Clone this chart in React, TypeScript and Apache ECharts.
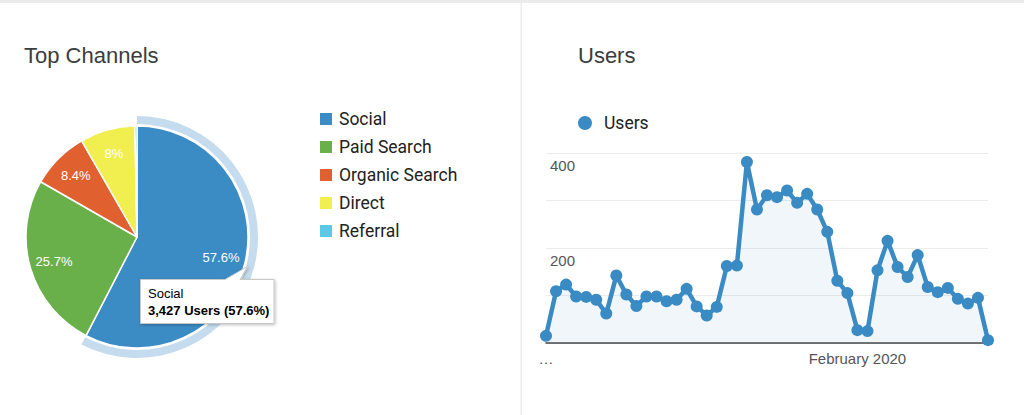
import { useEffect, useRef } from "react";
import * as echarts from "echarts";

const channels = ["Social", "Paid Search", "Organic Search", "Direct", "Referral"];
const channelUsers = [3427, 1529, 500, 476, 18];
const channelColors = ["#3b8bc5", "#6ab04a", "#e0612f", "#f1ee4f", "#5bc8e5"];

const days = [
  "Jan 1", "Jan 2", "Jan 3", "Jan 4", "Jan 5", "Jan 6", "Jan 7", "Jan 8", "Jan 9", "Jan 10",
  "Jan 11", "Jan 12", "Jan 13", "Jan 14", "Jan 15", "Jan 16", "Jan 17", "Jan 18", "Jan 19", "Jan 20",
  "Jan 21", "Jan 22", "Jan 23", "Jan 24", "Jan 25", "Jan 26", "Jan 27", "Jan 28", "Jan 29", "Jan 30",
  "Jan 31", "Feb 1", "Feb 2", "Feb 3", "Feb 4", "Feb 5", "Feb 6", "Feb 7", "Feb 8", "Feb 9",
  "Feb 10", "Feb 11", "Feb 12", "Feb 13", "Feb 14",
];
const dailyUsers = [
  15, 109, 123, 98, 97, 91, 62, 142, 102, 78,
  98, 98, 88, 91, 114, 77, 58, 76, 162, 163,
  381, 281, 311, 307, 321, 295, 314, 281, 234, 131,
  105, 27, 25, 153, 215, 160, 139, 185, 118, 107,
  116, 93, 83, 95, 6,
];
const xTickLabels: Record<string, string> = { "Jan 1": "…", "Feb 1": "February 2020" };
const yTickLabels = [200, 400];

const FONT = "'Liberation Sans', Arial, Helvetica, sans-serif";

export default function App() {
  const chartRef = useRef<HTMLDivElement>(null);

  useEffect(() => {
    if (!chartRef.current) return;
    const chart = echarts.init(chartRef.current, null, { renderer: "svg" });

    const total = channelUsers.reduce((a, b) => a + b, 0);
    const pieData = channels.map((name, i) => ({
      name,
      value: channelUsers[i],
      itemStyle: { color: channelColors[i] },
    }));
    const top = pieData[0];
    const topPct = ((top.value / total) * 100).toFixed(1);

    const center = [137, 237];

    const option: echarts.EChartsOption = {
      animation: false,
      backgroundColor: "#fff",
      textStyle: { fontFamily: FONT },
      title: [
        { text: "Top Channels", left: 19, top: 39, textStyle: { fontSize: 22, fontWeight: "normal", color: "#3c3c3c", fontFamily: FONT } },
        { text: "Users", left: 573, top: 39, textStyle: { fontSize: 22, fontWeight: "normal", color: "#3c3c3c", fontFamily: FONT } },
      ],
      legend: [
        {
          data: channels,
          orient: "vertical",
          left: 313,
          top: 105,
          icon: "rect",
          itemWidth: 14,
          itemHeight: 14,
          itemGap: 10,
          selectedMode: false,
          textStyle: { fontSize: 17.5, color: "#222", fontFamily: "Roboto, " + FONT, padding: [0, 0, 0, 1] },
        },
        {
          data: ["Users"],
          left: 573,
          top: 109,
          icon: "circle",
          itemWidth: 14,
          itemHeight: 14,
          selectedMode: false,
          textStyle: { fontSize: 17.5, color: "#222", fontFamily: "Roboto, " + FONT, padding: [0, 0, 0, 7] },
        },
      ],
      grid: { left: 546, right: 36, top: 153, bottom: 72 },
      xAxis: {
        type: "category",
        data: days,
        boundaryGap: false,
        axisLine: { lineStyle: { color: "#444", width: 1.5 } },
        axisTick: { show: false },
        axisLabel: {
          interval: 0,
          margin: 8,
          fontSize: 15,
          color: "#555",
          formatter: (v: string) => xTickLabels[v] ?? "",
        },
      },
      yAxis: {
        type: "value",
        min: 0,
        max: 400,
        interval: 100,
        axisLine: { show: false },
        axisTick: { show: false },
        splitLine: { lineStyle: { color: "#ececec", width: 1 } },
        axisLabel: {
          inside: true,
          margin: 4,
          verticalAlign: "top",
          padding: [5, 0, 0, 0],
          fontSize: 15,
          color: "#555",
          formatter: (v: number) => (yTickLabels.includes(v) ? String(v) : ""),
        },
      },
      series: [
        {
          name: "Channels",
          type: "pie",
          center,
          radius: [0, 111],
          startAngle: 90,
          silent: true,
          data: pieData,
          label: { show: false },
          labelLine: { show: false },
          itemStyle: { borderColor: "#fff", borderWidth: 1.5 },
        },
        {
          name: "Highlight",
          type: "pie",
          center,
          radius: [113, 121],
          startAngle: 90,
          silent: true,
          data: [
            { name: top.name, value: top.value, itemStyle: { color: "#c5dbee" } },
            { name: "", value: total - top.value, itemStyle: { color: "transparent" } },
          ],
          label: { show: false },
          labelLine: { show: false },
        },
        {
          name: "Percent",
          type: "pie",
          center,
          radius: [56, 111],
          startAngle: 90,
          silent: true,
          percentPrecision: 1,
          minShowLabelAngle: 5,
          data: channels.map((name, i) => ({ name, value: channelUsers[i] })),
          itemStyle: { color: "transparent" },
          label: {
            show: true,
            position: "inside",
            color: "#fff",
            fontSize: 13,
            fontFamily: FONT,
            formatter: (p: any) => `${p.percent}%`,
          },
          labelLine: { show: false },
        },
        {
          name: "Users",
          type: "line",
          data: dailyUsers,
          symbol: "circle",
          symbolSize: 12,
          showAllSymbol: true,
          silent: true,
          itemStyle: { color: "#3a8bc4" },
          lineStyle: { color: "#3a8bc4", width: 4.5 },
          areaStyle: { color: "rgba(58,139,196,0.11)" },
        },
      ],
      graphic: [
        { type: "rect", shape: { x: 0, y: 0, width: 1024, height: 3 }, style: { fill: "#ebebeb" }, silent: true },
        { type: "rect", shape: { x: 520.5, y: 3, width: 1.5, height: 412 }, style: { fill: "#ececec" }, silent: true },
        {
          type: "group",
          silent: true,
          z: 100,
          children: [
            {
              type: "polygon",
              z: 100,
              shape: {
                points: [
                  [140.5, 279.5], [225, 279.5], [247.5, 266.5], [240, 279.5],
                  [274, 279.5], [274, 323.5], [140.5, 323.5],
                ],
              },
              style: { fill: "#fff", stroke: "#c8c8c8", lineWidth: 1, shadowBlur: 3, shadowColor: "rgba(0,0,0,0.25)", shadowOffsetX: 1, shadowOffsetY: 1 },
            },
            {
              type: "text",
              z: 101,
              x: 148,
              y: 293,
              style: { text: top.name, fontSize: 13, fill: "#000", fontFamily: FONT, verticalAlign: "middle" },
            },
            {
              type: "text",
              z: 101,
              x: 148,
              y: 310,
              style: {
                text: `${top.value.toLocaleString("en-US")} Users (${topPct}%)`,
                fontSize: 13,
                fontWeight: "bold",
                fill: "#000",
                fontFamily: FONT,
                verticalAlign: "middle",
              },
            },
          ],
        },
      ],
    };

    chart.setOption(option);
    return () => chart.dispose();
  }, []);

  return (
    <div style={{ position: "fixed", left: 0, top: 0, width: 1024, height: 415, background: "#fff" }}>
      <div ref={chartRef} style={{ width: 1024, height: 415 }} />
    </div>
  );
}
